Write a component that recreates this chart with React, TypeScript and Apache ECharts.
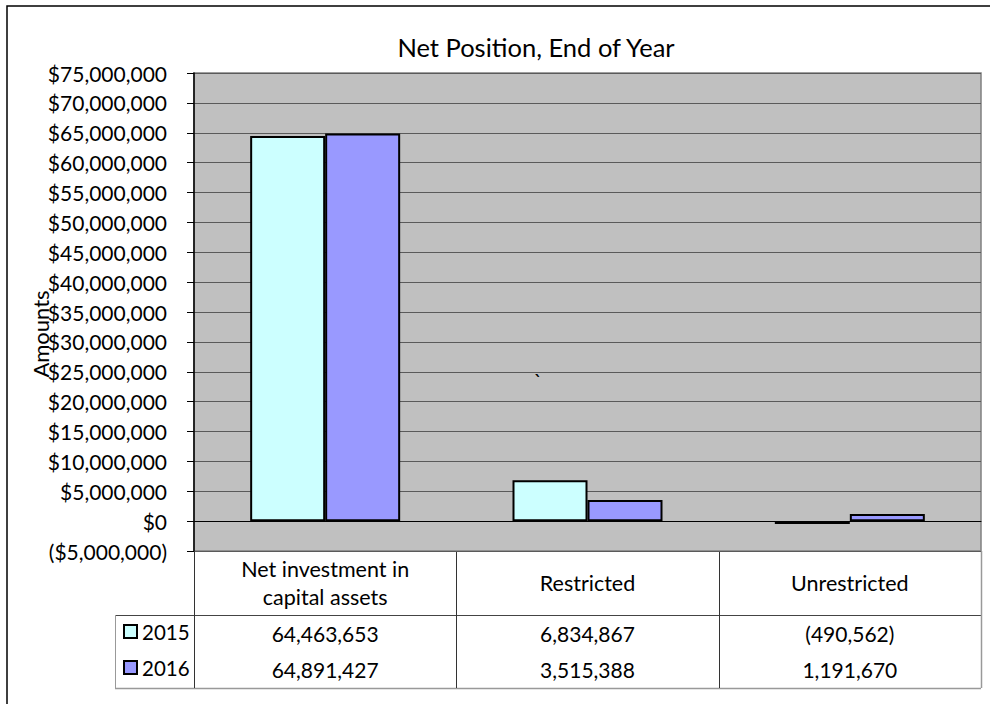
import React, { useEffect, useRef } from "react";
import * as echarts from "echarts";

const categories = ["Net investment in\ncapital assets", "Restricted", "Unrestricted"];
const seriesNames = ["2015", "2016"];
const values2015 = [64463653, 6834867, -490562];
const values2016 = [64891427, 3515388, 1191670];
const Y_MIN = -5000000;
const Y_MAX = 75000000;
const Y_STEP = 5000000;
const titleText = "Net Position, End of Year";
const yAxisName = "Amounts";

const FONT = "Lato, 'Open Sans', sans-serif";
const PLOT_L = 194;
const PLOT_R = 981;
const PLOT_T = 73;
const PLOT_B = 551;
const ROW_SPLIT = 615;
const TABLE_B = 688;
const LEGEND_L = 115;
const ROW_Y = [633, 669];

function fmtAxis(v: number): string {
  const s = "$" + Math.abs(v).toLocaleString("en-US");
  return v < 0 ? "(" + s + ")" : s;
}
function fmtCell(v: number): string {
  const s = Math.abs(v).toLocaleString("en-US");
  return v < 0 ? "(" + s + ")" : s;
}

export default function App() {
  const ref = useRef<HTMLDivElement>(null);
  useEffect(() => {
    document.body.style.margin = "0";
    const chart = echarts.init(ref.current!, undefined, { renderer: "svg" });
    const colW = (PLOT_R - PLOT_L) / categories.length;
    const graphics: any[] = [];
    const line = (x1: number, y1: number, x2: number, y2: number, stroke: string, lw = 1) =>
      graphics.push({ type: "line", silent: true, shape: { x1, y1, x2, y2 }, style: { stroke, lineWidth: lw } });
    // outer frame
    graphics.push({ type: "rect", silent: true, shape: { x: 7, y: 6, width: 1200, height: 1200 }, style: { fill: "none", stroke: "#000", lineWidth: 1.5 } });
    // table lines
    line(LEGEND_L, ROW_SPLIT + 0.5, PLOT_R, ROW_SPLIT + 0.5, "#444");
    line(LEGEND_L, TABLE_B + 0.5, PLOT_R, TABLE_B + 0.5, "#999", 1.5);
    line(LEGEND_L + 0.5, ROW_SPLIT, LEGEND_L + 0.5, TABLE_B, "#999");
    for (let i = 0; i <= categories.length; i++) {
      const x = Math.round(PLOT_L + i * colW) + 0.5;
      const last = i === categories.length;
      line(x, PLOT_B, x, TABLE_B, last ? "#999" : "#333", last ? 1.5 : 1);
    }
    const rows = [values2015, values2016];
    rows.forEach((vals, r) => {
      vals.forEach((v, i) => {
        graphics.push({
          type: "text",
          silent: true,
          x: PLOT_L + (i + 0.5) * colW,
          y: ROW_Y[r],
          style: { text: fmtCell(v), font: `21px ${FONT}`, fill: "#000", align: "center", verticalAlign: "middle" },
        });
      });
    });
    // axis title, rotated
    graphics.push({
      type: "text",
      silent: true,
      x: 40,
      y: 334,
      rotation: Math.PI / 2,
      style: { text: yAxisName, font: `22px ${FONT}`, fill: "#000", align: "center", verticalAlign: "middle" },
    });
    // chart title
    graphics.push({
      type: "text",
      silent: true,
      x: 536,
      y: 47,
      style: { text: titleText, font: `25.5px ${FONT}`, fill: "#000", align: "center", verticalAlign: "middle" },
    });
    // stray backtick mark
    graphics.push({ type: "text", silent: true, x: 538, y: 380, style: { text: "`", font: `21px ${FONT}`, fill: "#000", align: "center", verticalAlign: "middle" } });

    const legendBase = {
      orient: "vertical",
      left: 123,
      itemWidth: 13,
      itemHeight: 13,
      icon: "rect",
      itemGap: 4,
      textStyle: { fontFamily: FONT, fontSize: 20.5, color: "#000" },
      padding: 0,
    };

    chart.setOption({
      animation: false,
      backgroundColor: "#fff",
      textStyle: { fontFamily: FONT },
      legend: [
        { ...legendBase, top: ROW_Y[0] - 12, data: [seriesNames[0]] },
        { ...legendBase, top: ROW_Y[1] - 12, data: [seriesNames[1]] },
      ],
      grid: {
        left: PLOT_L,
        right: 990 - PLOT_R,
        top: PLOT_T,
        bottom: 704 - PLOT_B,
        show: true,
        backgroundColor: "#C0C0C0",
        borderColor: "#808080",
        borderWidth: 1.5,
        containLabel: false,
      },
      xAxis: [
        {
          type: "category",
          data: categories,
          axisLine: { show: true, onZero: true, lineStyle: { color: "#000", width: 1 } },
          axisTick: { show: false },
          axisLabel: { show: false },
          splitLine: { show: false },
        },
        {
          type: "category",
          data: categories,
          position: "bottom",
          axisLine: { show: false, onZero: false },
          axisTick: { show: false },
          splitLine: { show: false },
          axisLabel: {
            interval: 0,
            margin: 32,
            verticalAlign: "middle",
            lineHeight: 28,
            fontFamily: FONT,
            fontSize: 21.5,
            color: "#000",
          },
        },
      ],
      yAxis: {
        type: "value",
        min: Y_MIN,
        max: Y_MAX,
        interval: Y_STEP,
        axisLine: { show: true, lineStyle: { color: "#000", width: 1.5 } },
        axisTick: { show: true, length: 7, lineStyle: { color: "#000" } },
        axisLabel: { formatter: fmtAxis, margin: 27, fontFamily: FONT, fontSize: 21, color: "#000" },
        splitLine: { show: true, lineStyle: { color: "#5a5a5a", width: 1 } },
      },
      series: [
        {
          name: seriesNames[0],
          type: "bar",
          data: values2015,
          barWidth: 75,
          barGap: "0%",
          itemStyle: { color: "#CCFFFF", borderColor: "#000", borderWidth: 2 },
        },
        {
          name: seriesNames[1],
          type: "bar",
          data: values2016,
          barWidth: 75,
          barGap: "0%",
          itemStyle: { color: "#9999FF", borderColor: "#000", borderWidth: 2 },
        },
      ],
      graphic: graphics,
    });
    return () => chart.dispose();
  }, []);
  return <div ref={ref} style={{ width: 990, height: 704 }} />;
}
